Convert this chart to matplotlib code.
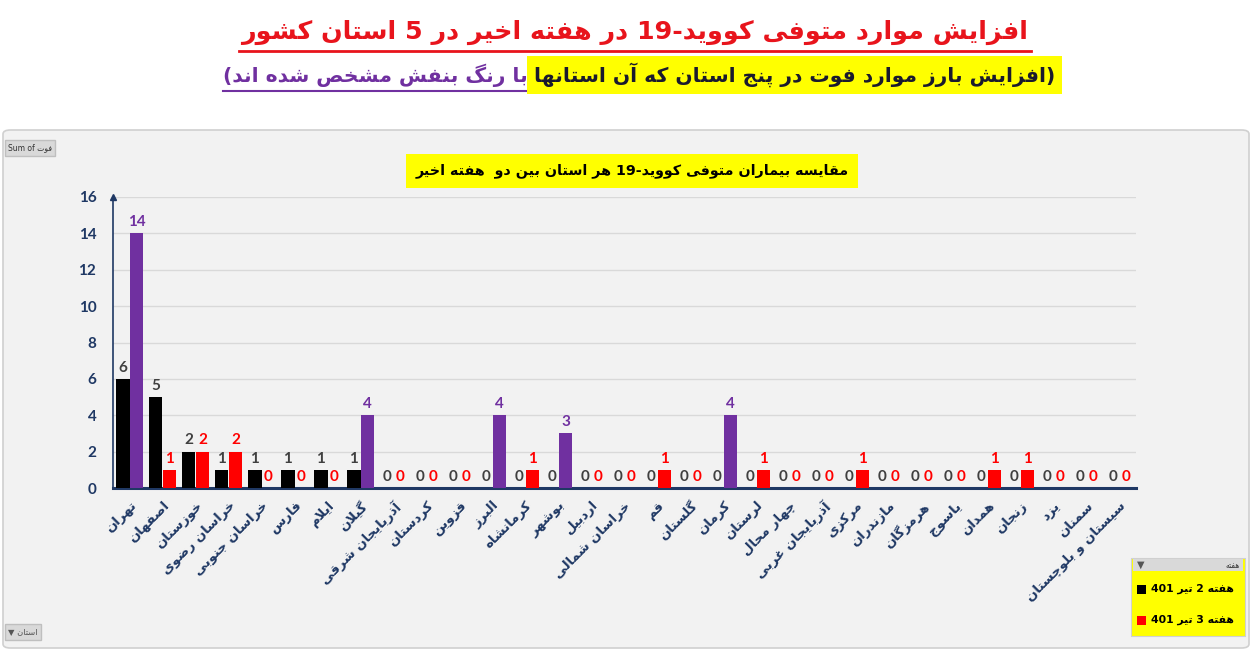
import re
import numpy as np
import matplotlib
matplotlib.use('Agg')
import matplotlib.pyplot as plt
from matplotlib.patches import FancyBboxPatch, Rectangle

# ---- data ----
provinces = ['تهران', 'اصفهان', 'خوزستان', 'خراسان رضوی', 'خراسان جنوبی', 'فارس', 'ایلام',
             'گیلان', 'آذربایجان شرقی', 'کردستان', 'قزوین', 'البرز', 'کرمانشاه', 'بوشهر',
             'اردبیل', 'خراسان شمالی', 'قم', 'گلستان', 'کرمان', 'لرستان', 'چهار محال',
             'آذربایجان غربی', 'مرکزی', 'مازندران', 'هرمزگان', 'یاسوج', 'همدان', 'زنجان',
             'یزد', 'سمنان', 'سیستان و بلوچستان']
week2 = [6, 5, 2, 1, 1, 1, 1, 1, 0, 0, 0, 0, 0, 0, 0, 0, 0, 0, 0, 0, 0, 0, 0, 0, 0, 0, 0, 0, 0, 0, 0]
week3 = [14, 1, 2, 2, 0, 0, 0, 4, 0, 0, 0, 4, 1, 3, 0, 0, 1, 0, 4, 1, 0, 0, 1, 0, 0, 0, 1, 1, 0, 0, 0]
highlighted = ['تهران', 'گیلان', 'البرز', 'بوشهر', 'کرمان']
series_labels = ['هفته 2 تیر 401', 'هفته 3 تیر 401']
yticks = [0, 2, 4, 6, 8, 10, 12, 14, 16]

title = 'افزایش موارد متوفی کووید-19 در هفته اخیر در 5 استان کشور'
sub_yellow = '(افزایش بارز موارد فوت در پنج استان که آن استانها'
sub_purple = 'با رنگ بنفش مشخص شده اند)'
chart_title = 'مقایسه بیماران متوفی کووید-19 هر استان بین دو  هفته اخیر'

# ---- tiny Persian shaper (matplotlib does no Arabic shaping) ----
FORMS = {
    'ا': (0xFE8D, 0xFE8E), 'آ': (0xFE81, 0xFE82), 'د': (0xFEA9, 0xFEAA), 'ذ': (0xFEAB, 0xFEAC),
    'ر': (0xFEAD, 0xFEAE), 'ز': (0xFEAF, 0xFEB0), 'ژ': (0xFB8A, 0xFB8B), 'و': (0xFEED, 0xFEEE),
    'ب': (0xFE8F, 0xFE90, 0xFE91, 0xFE92), 'پ': (0xFB56, 0xFB57, 0xFB58, 0xFB59),
    'ت': (0xFE95, 0xFE96, 0xFE97, 0xFE98), 'ث': (0xFE99, 0xFE9A, 0xFE9B, 0xFE9C),
    'ج': (0xFE9D, 0xFE9E, 0xFE9F, 0xFEA0), 'چ': (0xFB7A, 0xFB7B, 0xFB7C, 0xFB7D),
    'ح': (0xFEA1, 0xFEA2, 0xFEA3, 0xFEA4), 'خ': (0xFEA5, 0xFEA6, 0xFEA7, 0xFEA8),
    'س': (0xFEB1, 0xFEB2, 0xFEB3, 0xFEB4), 'ش': (0xFEB5, 0xFEB6, 0xFEB7, 0xFEB8),
    'ص': (0xFEB9, 0xFEBA, 0xFEBB, 0xFEBC), 'ض': (0xFEBD, 0xFEBE, 0xFEBF, 0xFEC0),
    'ط': (0xFEC1, 0xFEC2, 0xFEC3, 0xFEC4), 'ظ': (0xFEC5, 0xFEC6, 0xFEC7, 0xFEC8),
    'ع': (0xFEC9, 0xFECA, 0xFECB, 0xFECC), 'غ': (0xFECD, 0xFECE, 0xFECF, 0xFED0),
    'ف': (0xFED1, 0xFED2, 0xFED3, 0xFED4), 'ق': (0xFED5, 0xFED6, 0xFED7, 0xFED8),
    'ک': (0xFB8E, 0xFB8F, 0xFB90, 0xFB91), 'گ': (0xFB92, 0xFB93, 0xFB94, 0xFB95),
    'ل': (0xFEDD, 0xFEDE, 0xFEDF, 0xFEE0), 'م': (0xFEE1, 0xFEE2, 0xFEE3, 0xFEE4),
    'ن': (0xFEE5, 0xFEE6, 0xFEE7, 0xFEE8), 'ه': (0xFEE9, 0xFEEA, 0xFEEB, 0xFEEC),
    'ی': (0xFBFC, 0xFBFD, 0xFBFE, 0xFBFF),
}
LAMALEF = {'ا': (0xFEFB, 0xFEFC), 'آ': (0xFEF5, 0xFEF6)}


def shape(s):
    out = []
    i = 0
    while i < len(s):
        c = s[i]
        if c not in FORMS:
            out.append(c)
            i += 1
            continue
        prev = s[i - 1] if i > 0 else ''
        jp = prev in FORMS and len(FORMS[prev]) == 4
        nxt = s[i + 1] if i + 1 < len(s) else ''
        if c == 'ل' and nxt in LAMALEF:
            out.append(chr(LAMALEF[nxt][1 if jp else 0]))
            i += 2
            continue
        f = FORMS[c]
        jn = len(f) == 4 and nxt in FORMS
        if jp and jn:
            g = f[3]
        elif jp:
            g = f[1]
        elif jn:
            g = f[2]
        else:
            g = f[0]
        out.append(chr(g))
        i += 1
    return ''.join(out)


def vis(s):
    r = shape(s)[::-1]
    return re.sub(r'[0-9A-Za-z]+', lambda m: m.group()[::-1], r)


def flip_parens(s):
    # the reference shows the brackets unmirrored
    return s.translate(str.maketrans('()', ')('))


AR = 'DejaVu Sans'
NUM = 'Lato'
navy = '#1f3864'
purple = '#7030a0'
red = '#ff0000'

fig = plt.figure(figsize=(12.53, 6.72), dpi=100)
fig.patch.set_facecolor('white')

# grey chart panel
panel = FancyBboxPatch((3 / 1253, 24 / 672), 1246 / 1253, 518 / 672,
                       boxstyle='round,pad=0,rounding_size=0.006', transform=fig.transFigure,
                       facecolor='#f2f2f2', edgecolor='#d0d0d0', linewidth=1.2, zorder=0)
fig.add_artist(panel)

ax = fig.add_axes([113 / 1253, 1 - 488 / 672, 1023 / 1253, 291 / 672])
ax.set_facecolor('#f2f2f2')

x = np.arange(len(provinces))
w = 0.42
c3 = [purple if p in highlighted else red for p in provinces]
ax.bar(x - w / 2, week2, width=w, color='black', zorder=3)
ax.bar(x + w / 2, week3, width=w, color=c3, zorder=3)

for xi, v in zip(x, week2):
    ax.annotate(str(v), (xi - w / 2, v), xytext=(0, 3), textcoords='offset points',
                ha='center', va='bottom', fontsize=11, fontweight='bold', color='#404040',
                family=NUM)
for xi, v, c in zip(x, week3, c3):
    ax.annotate(str(v), (xi + w / 2, v), xytext=(0, 3), textcoords='offset points',
                ha='center', va='bottom', fontsize=11, fontweight='bold', color=c,
                family=NUM)

ax.set_xlim(-0.5, len(provinces) - 0.5)
ax.set_ylim(0, 16)
ax.set_yticks(yticks)
ax.set_yticklabels([str(t) for t in yticks], fontsize=11, fontweight='bold', color=navy,
                   family=NUM)
ax.tick_params(axis='y', length=0, pad=12)
ax.set_xticks(x)
ax.set_xticklabels([vis(p) for p in provinces], rotation=45, ha='right', va='top',
                   rotation_mode='anchor', fontsize=9.5, fontweight='bold', color=navy, family=AR)
ax.tick_params(axis='x', length=0, pad=8)
ax.grid(axis='y', color='#d9d9d9', linewidth=1, zorder=0)
for s in ['top', 'right']:
    ax.spines[s].set_visible(False)
ax.spines['left'].set_color(navy)
ax.spines['left'].set_linewidth(1.2)
ax.spines['bottom'].set_color(navy)
ax.spines['bottom'].set_linewidth(2.2)
ax.plot([0], [1.0], marker='^', markersize=4, color=navy, transform=ax.transAxes,
        clip_on=False, zorder=5)

r = fig.canvas.get_renderer()

# headline
tt = fig.text(635 / 1253, 1 - 32 / 672, vis(title), ha='center', va='center', fontsize=18.3,
              fontweight='bold', color='#e8141c', family=AR)
bt = tt.get_window_extent(r)
fig.add_artist(plt.Line2D([bt.x0 / 1253 - 0.002, bt.x1 / 1253 + 0.002], [1 - 51 / 672] * 2,
                          color='#e8141c', linewidth=2, transform=fig.transFigure))

# subtitle: yellow part on the right, purple part on the left
ty = fig.text(1055 / 1253, 1 - 75 / 672, flip_parens(vis(sub_yellow)), ha='right', va='center',
              fontsize=14.6, fontweight='bold', color='#1a1a2e', family=AR,
              bbox=dict(boxstyle='square,pad=0.35', facecolor='#ffff00', edgecolor='none'))
bb = ty.get_window_extent(r)
tp = fig.text(bb.x0 / 1253 - 0.005, 1 - 75 / 672, flip_parens(vis(sub_purple)), ha='right',
              va='center', fontsize=14.6, fontweight='bold', color=purple, family=AR)
bp = tp.get_window_extent(r)
fig.add_artist(plt.Line2D([bp.x0 / 1253, bb.x0 / 1253 - 0.004], [1 - 91 / 672] * 2, color=purple,
                          linewidth=1.5, transform=fig.transFigure))

# chart title in yellow box
fig.text(632 / 1253, 1 - 171 / 672, vis(chart_title), ha='center', va='center', fontsize=10.3,
         fontweight='bold', color='black', family=AR,
         bbox=dict(boxstyle='square,pad=0.65', facecolor='#ffff00', edgecolor='none'))

# pivot-chart field buttons
fig.text(8 / 1253, 1 - 148 / 672, 'Sum of ' + vis('فوت'), ha='left', va='center', fontsize=5.5,
         color='#333333', family=AR,
         bbox=dict(boxstyle='square,pad=0.4', facecolor='#d9d9d9', edgecolor='#bfbfbf'))
fig.text(8 / 1253, 1 - 632 / 672, '▼ ' + vis('استان'), ha='left', va='center', fontsize=6,
         color='#555555', family=AR,
         bbox=dict(boxstyle='square,pad=0.4', facecolor='#d9d9d9', edgecolor='#bfbfbf'))

# legend panel
fig.add_artist(Rectangle((1131 / 1253, 1 - 636 / 672), 114 / 1253, 78 / 672,
                         transform=fig.transFigure, facecolor='#ffff00', edgecolor='#d0d0d0',
                         linewidth=0.8))
fig.add_artist(Rectangle((1133 / 1253, 1 - 571 / 672), 110 / 1253, 12 / 672,
                         transform=fig.transFigure, facecolor='#d9d9d9', edgecolor='none'))
fig.text(1137 / 1253, 1 - 565 / 672, '▼', ha='left', va='center', fontsize=7, color='#555555')
fig.text(1240 / 1253, 1 - 565 / 672, vis('هفته'), ha='right', va='center', fontsize=5.5,
         color='#333333', family=AR)
for i, (lab, col) in enumerate(zip(series_labels, ['black', red])):
    yy = 1 - (589 + i * 31) / 672
    fig.add_artist(Rectangle((1137 / 1253, yy - 4.5 / 672), 9 / 1253, 9 / 672,
                             transform=fig.transFigure, facecolor=col, edgecolor='none'))
    fig.text(1151 / 1253, yy, vis(lab), ha='left', va='center', fontsize=7.8,
             fontweight='bold', color='black', family=AR)

fig.savefig('out.png', dpi=100)
